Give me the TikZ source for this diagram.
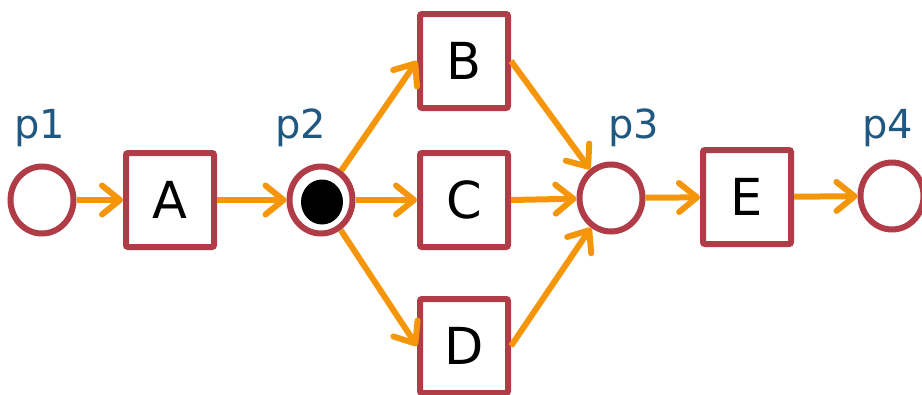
\documentclass[tikz,border=0pt]{standalone}
\usepackage{fontspec}
\setmainfont{DejaVu Sans}
\usetikzlibrary{arrows.meta,shapes.geometric}
\definecolor{pred}{RGB}{176,60,72}
\definecolor{porange}{RGB}{245,150,10}
\definecolor{pblue}{RGB}{31,88,128}
\tikzset{
  place/.style={ellipse,draw=pred,line width=6pt,minimum width=63pt,minimum height=67pt,inner sep=0pt},
  trans/.style={rectangle,draw=pred,line width=6pt,rounded corners=2pt,minimum width=88pt,minimum height=94pt,inner sep=0pt,font=\fontsize{51}{60}\selectfont},
  token/.style={ellipse,fill=black,minimum width=42pt,minimum height=45pt,inner sep=0pt},
  plabel/.style={anchor=base,text=pblue,font=\fontsize{40}{48}\selectfont,inner sep=0pt},
  arc/.style={draw=porange,line width=6pt,-{Straight Barb[length=18pt,width=29pt,line width=6pt,round]}}
}
\begin{document}
\begin{tikzpicture}[x=1pt,y=-1pt]
\useasboundingbox (0,0) rectangle (922,394);
\node[place] (p1) at (42,200) {};
\node[trans] (A) at (170,200) {A};
\node[place] (p2) at (321,200) {};
\node[token] (tok) at (322,202) {};
\node[trans] (B) at (464,61) {B};
\node[trans] (C) at (464,200) {C};
\node[trans] (D) at (464,346) {D};
\node[place] (p3) at (611,198) {};
\node[trans] (E) at (747,197) {E};
\node[place] (p4) at (892,196) {};
\node[plabel] (l1) at (40,138) {p1};
\node[plabel] (l2) at (301,138) {p2};
\node[plabel] (l3) at (634,138) {p3};
\node[plabel] (l4) at (888,138) {p4};
\draw[arc] (p1) -- (A);
\draw[arc] (A) -- (p2);
\draw[arc] (p2) -- (B.west);
\draw[arc] (p2) -- (C);
\draw[arc] (p2) -- (D.west);
\draw[arc] (B.east) -- (p3);
\draw[arc] (C.east) -- (p3);
\draw[arc] (D.east) -- (p3);
\draw[arc] (p3) -- (E);
\draw[arc] (E) -- (p4);
\end{tikzpicture}
\end{document}
